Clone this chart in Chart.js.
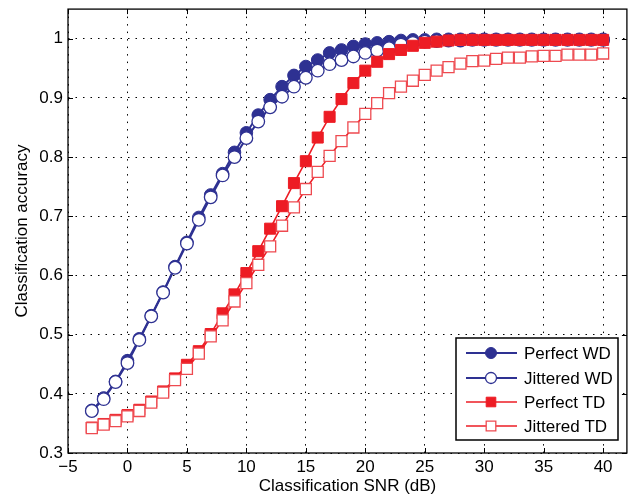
<!DOCTYPE html>
<html>
<head>
<meta charset="utf-8">
<script src="https://cdn.jsdelivr.net/npm/chart.js@4.4.1/dist/chart.umd.min.js"></script>
<style>
  html, body { margin: 0; padding: 0; background: #fff; }
  #wrap { width: 636px; height: 499px; }
</style>
</head>
<body>
<div id="wrap"><canvas id="grafico" width="636" height="499"></canvas></div>
<script>
// SNR en dB, de -3 a 40
const snr = [-3, -2, -1, 0, 1, 2, 3, 4, 5, 6, 7, 8, 9, 10, 11, 12, 13, 14, 15, 16, 17, 18, 19, 20,
  21, 22, 23, 24, 25, 26, 27, 28, 29, 30, 31, 32, 33, 34, 35, 36, 37, 38, 39, 40];

const perfectWD = [0.372, 0.393, 0.421, 0.456, 0.493, 0.532, 0.572, 0.615, 0.656, 0.698, 0.736, 0.772,
  0.808, 0.841, 0.871, 0.897, 0.919, 0.938, 0.953, 0.964, 0.976, 0.981, 0.987, 0.991,
  0.993, 0.995, 0.997, 0.998, 0.998, 0.999, 0.999, 0.999, 0.999, 0.999, 0.999, 0.999, 0.999, 0.999,
  0.999, 0.999, 0.999, 0.999, 0.999, 0.999];

const jitteredWD = [0.371, 0.391, 0.420, 0.452, 0.491, 0.531, 0.571, 0.613, 0.654, 0.694, 0.732, 0.769,
  0.800, 0.832, 0.860, 0.884, 0.902, 0.919, 0.934, 0.946, 0.957, 0.964, 0.970, 0.976,
  0.980, 0.984, 0.990, 0.993, 0.995, 0.996, 0.997, 0.997, 0.998, 0.998, 0.998, 0.998, 0.998, 0.998,
  0.998, 0.998, 0.998, 0.998, 0.998, 0.998];

const perfectTD = [0.343, 0.349, 0.356, 0.364, 0.373, 0.387, 0.404, 0.426, 0.449, 0.472, 0.501, 0.536,
  0.568, 0.604, 0.641, 0.679, 0.717, 0.756, 0.793, 0.833, 0.868, 0.898, 0.925, 0.946,
  0.961, 0.974, 0.981, 0.988, 0.993, 0.995, 0.997, 0.998, 0.998, 0.998, 0.998, 0.998, 0.998, 0.998,
  0.998, 0.998, 0.998, 0.998, 0.998, 0.998];

const jitteredTD = [0.342, 0.348, 0.354, 0.362, 0.371, 0.385, 0.402, 0.423, 0.442, 0.468, 0.497, 0.524,
  0.556, 0.587, 0.618, 0.649, 0.684, 0.715, 0.746, 0.775, 0.802, 0.827, 0.850, 0.873,
  0.891, 0.908, 0.919, 0.929, 0.939, 0.946, 0.952, 0.958, 0.962, 0.963, 0.966, 0.968, 0.968, 0.970,
  0.971, 0.971, 0.973, 0.973, 0.973, 0.975];

const xTicks = [-5, 0, 5, 10, 15, 20, 25, 30, 35, 40];
const xTickLabels = ['\u22125', '0', '5', '10', '15', '20', '25', '30', '35', '40'];
const yTicks = [0.3, 0.4, 0.5, 0.6, 0.7, 0.8, 0.9, 1.0];
const yTickLabels = ['0.3', '0.4', '0.5', '0.6', '0.7', '0.8', '0.9', '1'];

const AZUL = '#2e3192';
const ROJO = '#ed1c24';
const FUENTE = '"Liberation Sans", Arial, Helvetica, sans-serif';

function puntos(ys) {
  return snr.map((x, i) => ({ x: x, y: ys[i] }));
}

function etiqueta(valores, etiquetas) {
  return function(v) {
    const i = valores.findIndex(t => Math.abs(t - v) < 1e-9);
    return i >= 0 ? etiquetas[i] : '';
  };
}

// caja, ticks hacia dentro y leyenda dentro del area
const marcoYLeyenda = {
  id: 'marcoYLeyenda',
  afterDraw(chart) {
    const { ctx, chartArea: a, scales } = chart;
    ctx.save();
    ctx.strokeStyle = '#000';
    ctx.lineWidth = 1.3;
    ctx.setLineDash([]);
    ctx.strokeRect(a.left, a.top, a.right - a.left, a.bottom - a.top);

    const largo = 5;
    ctx.lineWidth = 1;
    ctx.beginPath();
    xTicks.forEach(v => {
      const px = Math.round(scales.x.getPixelForValue(v)) + 0.5;
      ctx.moveTo(px, a.bottom); ctx.lineTo(px, a.bottom - largo);
      ctx.moveTo(px, a.top); ctx.lineTo(px, a.top + largo);
    });
    yTicks.forEach(v => {
      const py = Math.round(scales.y.getPixelForValue(v)) + 0.5;
      ctx.moveTo(a.left, py); ctx.lineTo(a.left + largo, py);
      ctx.moveTo(a.right, py); ctx.lineTo(a.right - largo, py);
    });
    ctx.stroke();

    // leyenda
    const bx = 456, by = 338, bw = 162, bh = 102;
    ctx.fillStyle = '#fff';
    ctx.fillRect(bx, by, bw, bh);
    ctx.lineWidth = 1.5;
    ctx.strokeStyle = '#000';
    ctx.strokeRect(bx, by, bw, bh);

    const filas = [353, 378, 402, 426];
    ctx.font = '17px ' + FUENTE;
    ctx.textBaseline = 'middle';
    ctx.textAlign = 'left';
    chart.data.datasets.forEach((ds, i) => {
      const y = filas[i];
      ctx.strokeStyle = ds.borderColor;
      ctx.lineWidth = ds.borderWidth;
      ctx.beginPath();
      ctx.moveTo(466, y); ctx.lineTo(517, y);
      ctx.stroke();
      ctx.fillStyle = ds.pointBackgroundColor;
      ctx.strokeStyle = ds.pointBorderColor;
      ctx.lineWidth = ds.pointBorderWidth;
      Chart.helpers.drawPoint(ctx, {
        pointStyle: ds.pointStyle,
        radius: ds.pointStyle === 'rect' ? 6.8 : 5.5,
        rotation: 0,
        borderWidth: ds.pointBorderWidth
      }, 491, y);
      ctx.fillStyle = '#000';
      ctx.fillText(ds.label, 524, y + 1);
    });
    ctx.restore();
  }
};

const datasets = [
  { label: 'Perfect WD', data: puntos(perfectWD), borderColor: AZUL, borderWidth: 2,
    pointStyle: 'circle', pointRadius: 6.3, pointBackgroundColor: AZUL, pointBorderColor: AZUL,
    pointBorderWidth: 1, order: 3 },
  { label: 'Jittered WD', data: puntos(jitteredWD), borderColor: AZUL, borderWidth: 2,
    pointStyle: 'circle', pointRadius: 6.3, pointBackgroundColor: '#fff', pointBorderColor: AZUL,
    pointBorderWidth: 1.3, order: 2 },
  { label: 'Perfect TD', data: puntos(perfectTD), borderColor: ROJO, borderWidth: 1.6,
    pointStyle: 'rect', pointRadius: 7.8, pointBackgroundColor: ROJO, pointBorderColor: ROJO,
    pointBorderWidth: 1, order: 1 },
  { label: 'Jittered TD', data: puntos(jitteredTD), borderColor: ROJO, borderWidth: 1.6,
    pointStyle: 'rect', pointRadius: 7.8, pointBackgroundColor: '#fff', pointBorderColor: '#ee4a50',
    pointBorderWidth: 1.3, order: 0 }
];

new Chart(document.getElementById('grafico'), {
  type: 'line',
  data: { datasets: datasets },
  options: {
    responsive: false,
    animation: false,
    devicePixelRatio: 1,
    layout: { padding: { left: 0, right: 7, top: 8, bottom: 0 } },
    elements: { line: { tension: 0 } },
    plugins: { legend: { display: false }, tooltip: { enabled: false } },
    scales: {
      x: {
        type: 'linear', min: -5, max: 42,
        afterBuildTicks: s => { s.ticks = xTicks.map(v => ({ value: v })); },
        afterFit: s => { s.height = 46; s.paddingLeft = 0; s.paddingRight = 0; },
        ticks: { callback: etiqueta(xTicks, xTickLabels), color: '#000', padding: 4,
          font: { family: FUENTE, size: 17 }, maxRotation: 0, autoSkip: false },
        grid: { color: '#000', lineWidth: 1, drawTicks: false },
        border: { display: false, dash: [1.5, 6] },
        title: { display: true, text: 'Classification SNR (dB)', color: '#000',
          font: { family: FUENTE, size: 17 }, padding: { top: 0, bottom: 2 } }
      },
      y: {
        type: 'linear', min: 0.3, max: 1.05,
        afterBuildTicks: s => { s.ticks = yTicks.map(v => ({ value: v })); },
        afterFit: s => { s.width = 68; s.paddingTop = 0; s.paddingBottom = 0; },
        ticks: { callback: etiqueta(yTicks, yTickLabels), color: '#000', padding: 5,
          font: { family: FUENTE, size: 17 }, autoSkip: false },
        grid: { color: '#000', lineWidth: 1, drawTicks: false },
        border: { display: false, dash: [1.5, 6] },
        title: { display: true, text: 'Classification accuracy', color: '#000',
          font: { family: FUENTE, size: 17 }, padding: { top: 12, bottom: 0 } }
      }
    }
  },
  plugins: [marcoYLeyenda]
});
</script>
</body>
</html>
